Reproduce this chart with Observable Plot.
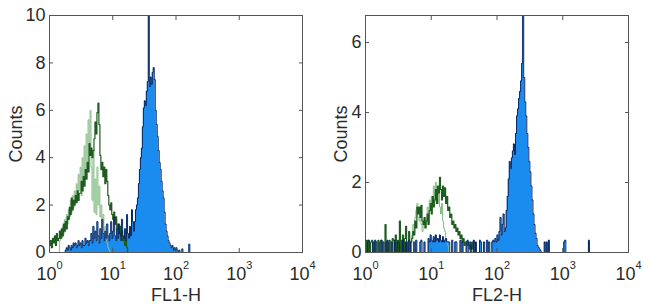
<!DOCTYPE html>
<html><head><meta charset="utf-8">
<script src="https://cdn.jsdelivr.net/npm/d3@7"></script>
<script src="https://cdn.jsdelivr.net/npm/@observablehq/plot@0.6"></script>
<style>
body{margin:0;background:#fff;width:650px;height:308px;overflow:hidden;}
#c{display:flex;}
</style></head><body>
<div id="c"></div>
<script>
// ---- data ----
const binsPerDecade = 64;                 // channel resolution (log scale)
const xTicks = [1, 10, 100, 1000, 10000];
const xTickBase = "10";
const xTickExponents = ["0", "1", "2", "3", "4"];
const xLabels = ["FL1-H", "FL2-H"];
const yLabel = "Counts";
const fl1YTicks = [0, 2, 4, 6, 8, 10];
const fl2YTicks = [0, 2, 4, 6];
const fl1YMax = 10;
const fl2YMax = 6.77;

// FL1 panel: stained sample (blue), controls (greens); counts per channel from start channel
const fl1BlueStart = 16;
const fl1Blue = [
  0.1,0.2,0.1,0.3,0.2,0.1,0.3,0.2,0.4,
  0.3,0.4,0.2,0.3,0.5,0.3,0.4,0.2,0.5,0.3,0.3,0.6,0.4,0.5,0.3,0.5,
  0.5,0.8,0.4,1.1,0.6,0.9,0.5,1.3,0.7,0.4,1.0,0.6,1.4,0.8,0.5,0.9,0.6,1.2,0.7,0.5,
  0.8,1.3,0.6,0.9,1.5,0.7,0.5,1.0,0.6,1.2,0.8,0.5,1.4,0.7,0.6,1.0,0.5,1.6,0.8,0.6,1.1,0.7,1.8,1.3,
  0.9,1.3,1.8,2.0,2.3,
  2.9,3.5,4.0,4.4,
  5.3,6.1,6.4,6.2,6.8,7.2,
  10,
  7.0,7.4,7.1,7.6,7.8,7.3,6.0,
  5.4,4.9,4.3,3.8,3.5,3.0,
  2.6,2.3,1.7,1.2,0.9,0.7,0.5,0.4,
  0.3,0.2,0.3,0.1,0.2,0.1,0.2,0.1,0,
  0.1,0,0,0.15,0,0,0,0,0,0,0.35
];
const fl1GreenDarkStart = 0;
const fl1GreenDark = [
  0.3,0.5,0.2,0.6,0.4,0.7,0.3,0.8,0.5,0.6,0.9,
  0.6,1.0,0.7,1.2,0.9,1.3,1.0,1.5,
  1.4,1.9,1.6,2.3,1.8,2.2,2.0,
  2.4,2.1,2.6,2.2,2.5,
  2.5,3.0,2.6,3.2,2.8,3.5,3.1,3.8,3.4,4.6,4.1,
  4.4,4.0,4.3,
  4.8,5.5,5.0,5.9,6.3,
  5.4,4.1,3.5,
  3.8,3.2,3.6,2.9,3.5,
  3.0,2.4,2.0,1.8,
  2.1,1.6,1.4,1.7,1.2,
  1.5,1.0,1.2,0.8,1.1,
  0.7,0.9,0.5,0.6,0.3,0.5,0.2
];
const fl1GreenLightStart = 10;
const fl1GreenLight = [
  0.5,0.9,0.6,1.1,0.8,1.4,1.0,1.6,1.2,
  1.8,1.5,2.2,1.7,2.4,1.9,2.6,
  2.3,2.9,2.2,3.3,2.6,
  3.6,2.4,4.0,3.0,4.5,3.4,
  5.0,3.8,5.6,4.2,6.0,
  3.6,2.2,4.3,1.7,3.1,
  1.6,3.6,2.0,2.8,1.5,
  2.0,1.2,1.6,0.9,1.1,0.6,0.4,
  0.2,0.1
];

// FL2 panel
const fl2BlueStart = 0;
const fl2Blue = [
  0,0,0.3,0.35,0,0,0,0.3,0,0.35,0.3,0,0,0,0,0.35,0,0.3,0,0,
  0.3,0.35,0,0,0,0.3,0,0,0.35,0,
  0,0.3,0.3,0,0,0,0.35,0,0,0.3,
  0,0,0.35,0.3,0,0,0,0.3,0,0.35,
  0,0,0,0.3,0.35,0,0,0.3,0,0,0,
  0.4,0.3,0.5,0.35,0.3,0.45,0.3,0.5,0.35,0.4,0.3,0.5,0.35,0.3,0.45,0.3,0.35,0.4,0.3,0.3,
  0.3,0,0,0.35,0,0,0.3,0.3,0,0,0,0.35,0,0.3,0,0,0,0.3,0.35,0,
  0,0.3,0,0,0.35,0,0.3,0,0,0,
  0.35,0.3,0,0,0.3,0,0,0.35,0,0.3,
  0,0,0.3,0.35,0.3,
  0.4,0.3,0.5,0.35,0.6,1.0,
  0.5,0.8,1.1,0.6,0.7,
  1.2,1.6,2.1,2.6,2.4,
  2.7,2.9,3.1,2.8,3.4,
  3.9,4.1,4.4,4.6,
  4.9,5.4,
  6.8,
  5.0,4.3,3.9,3.4,
  3.0,2.6,2.3,1.9,
  1.5,1.1,0.8,0.55,
  0.4,0.2,0.15,0.1,0.05,
  0,0,0,0.3,0,
  0.3,0,0.35,0,0,
  0,0,0,0,0,0,0,0,0,0,0,0,
  0.3,0.35,
  0,0,0,0,0,0,0,0,0,0,0,0,0,0,0,0,0,0,0,0,0,0,
  0.35
];
const fl2GreenDarkStart = 0;
const fl2GreenDark = [
  0.35,0,0.35,0,0,0.3,0.35,0,0,0.3,0,0,0.35,0,0.3,0.35,0,0,0,0.8,0,
  0.3,0,0.35,0,0,0.4,0.35,0,0.5,0,0.35,0,0.9,0,0.35,0.5,0,0.4,0.75,0,0.3,0.6,0,0.3,
  0.4,0.6,0.5,0.9,0.7,1.3,
  1.1,1.3,1.0,1.35,0.9,
  0.8,1.0,0.7,0.9,1.1,0.8,1.2,
  1.4,1.1,1.6,1.3,1.5,
  1.8,1.4,1.9,1.7,2.15,1.8,
  1.5,1.9,1.6,1.85,1.4,
  1.6,1.2,1.3,1.0,1.1,0.8,
  0.9,0.7,0.8,0.6,0.7,0.5,
  0.6,0.4,0.5,0.3,0.4,0.2,0.3,
  0.3,0.2,0.3,0.1,0.2,0.1,0.3
];
const fl2GreenLightStart = 45;
const fl2GreenLight = [
  0.5,0.8,0.6,1.0,1.2,1.4,1.0,0.9,1.2,0.8,0.6,0.9,0.7,1.0,0.8,1.3,1.1,1.5,
  1.2,1.6,1.4,1.9,1.5,2.0,1.7,1.4,1.8,1.3,1.1,1.4,0.9,0.7,0.6,0.4,0.3,0.2
];

// ---- helpers ----
function steps(start, values) {
  const pts = [{x: 10 ** (start / binsPerDecade), y: 0}];
  values.forEach((v, i) => pts.push({x: 10 ** ((start + i) / binsPerDecade), y: v}));
  pts.push({x: 10 ** ((start + values.length) / binsPerDecade), y: 0});
  return pts;
}
const fmtX = d => xTickBase + "^" + xTickExponents[xTicks.indexOf(d)];

function panel({marginLeft, marginRight, yMax, yTicks, xLabel, labelOffsetY, blue, greenDark, greenLight}) {
  const ink = "#2b2b2b";
  const svg = Plot.plot({
    width: 325, height: 308,
    marginLeft, marginRight, marginTop: 15, marginBottom: 56,
    style: {fontFamily: "'Liberation Sans', Arial, sans-serif", fontSize: "18px", color: ink, background: "white", overflow: "visible"},
    x: {type: "log", domain: [1, 1e4]},
    y: {domain: [0, yMax]},
    marks: [
      Plot.areaY(blue, {x: "x", y: "y", curve: "step-after", fill: "#1a8cf0", clip: true}),
      Plot.line(greenLight, {x: "x", y: "y", curve: "step-after", stroke: "#88bd88", strokeWidth: 1, clip: true}),
      Plot.line(greenDark, {x: "x", y: "y", curve: "step-after", stroke: "#1f5c1f", strokeWidth: 1.2, clip: true}),
      Plot.line(blue, {x: "x", y: "y", curve: "step-after", stroke: "#0c2860", strokeWidth: 1, clip: true}),
      Plot.frame({stroke: "#555"}),
      Plot.axisX(xTicks, {anchor: "bottom", tickSize: -4, tickPadding: 19, tickFormat: fmtX, stroke: "#555",
        label: xLabel, labelAnchor: "center", labelOffset: 48, labelArrow: "none"}),
      Plot.axisX(xTicks, {anchor: "top", tickSize: -4, tickFormat: () => "", label: null, stroke: "#555"}),
      Plot.axisY(yTicks, {anchor: "left", tickSize: -4, tickPadding: 8, stroke: "#555",
        label: yLabel, labelAnchor: "center", labelOffset: labelOffsetY, labelArrow: "none"}),
      Plot.axisY(yTicks, {anchor: "right", tickSize: -4, tickFormat: () => "", label: null, stroke: "#555"})
    ]
  });
  // render "10^n" tick labels with a real superscript
  d3.select(svg).selectAll("text").each(function () {
    const t = this.textContent;
    if (/^10\^\d$/.test(t)) {
      const [base, exp] = t.split("^");
      const el = d3.select(this);
      el.text(null);
      el.append("tspan").text(base);
      el.append("tspan").attr("dy", "-11px").attr("font-size", "11px").text(exp);
    }
  });
  return svg;
}

const c = document.getElementById("c");
c.append(panel({
  marginLeft: 49, marginRight: 23, yMax: fl1YMax, yTicks: fl1YTicks, xLabel: xLabels[0], labelOffsetY: 40,
  blue: steps(fl1BlueStart, fl1Blue),
  greenDark: steps(fl1GreenDarkStart, fl1GreenDark),
  greenLight: steps(fl1GreenLightStart, fl1GreenLight)
}));
c.append(panel({
  marginLeft: 40, marginRight: 22, yMax: fl2YMax, yTicks: fl2YTicks, xLabel: xLabels[1], labelOffsetY: 31,
  blue: steps(fl2BlueStart, fl2Blue),
  greenDark: steps(fl2GreenDarkStart, fl2GreenDark),
  greenLight: steps(fl2GreenLightStart, fl2GreenLight)
}));
</script>
</body></html>
